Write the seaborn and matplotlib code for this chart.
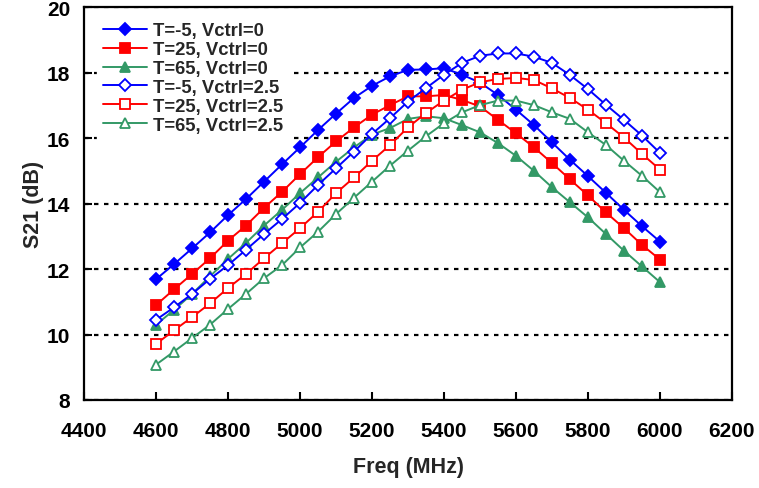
import pandas as pd
import seaborn as sns
import matplotlib.pyplot as plt
from matplotlib.lines import Line2D

# Frequency points (MHz)
freq = list(range(4600, 6001, 50))

# S21 (dB)
s21_m5_v0 = [11.69, 12.15, 12.63, 13.12, 13.65, 14.14, 14.67, 15.20, 15.72, 16.25,
             16.75, 17.23, 17.60, 17.89, 18.09, 18.10, 18.14, 17.94, 17.70, 17.32,
             16.87, 16.40, 15.87, 15.34, 14.84, 14.33, 13.81, 13.31, 12.84]
s21_25_v0 = [10.90, 11.38, 11.85, 12.33, 12.87, 13.33, 13.87, 14.36, 14.90, 15.42,
             15.90, 16.33, 16.72, 17.01, 17.28, 17.28, 17.32, 17.17, 16.97, 16.56,
             16.15, 15.72, 15.24, 14.74, 14.25, 13.73, 13.25, 12.74, 12.29]
s21_65_v0 = [10.30, 10.75, 11.24, 11.78, 12.31, 12.80, 13.33, 13.81, 14.32, 14.80,
             15.28, 15.72, 16.11, 16.31, 16.59, 16.67, 16.61, 16.40, 16.18, 15.85,
             15.46, 15.00, 14.50, 14.04, 13.58, 13.07, 12.56, 12.08, 11.60]
s21_m5_v25 = [10.45, 10.83, 11.24, 11.70, 12.12, 12.59, 13.07, 13.53, 14.02, 14.57,
              15.08, 15.59, 16.13, 16.61, 17.12, 17.53, 17.94, 18.30, 18.52, 18.59,
              18.59, 18.49, 18.30, 17.93, 17.50, 17.02, 16.56, 16.08, 15.55]
s21_25_v25 = [9.71, 10.13, 10.53, 10.95, 11.42, 11.85, 12.33, 12.79, 13.25, 13.75,
              14.32, 14.80, 15.31, 15.79, 16.33, 16.77, 17.15, 17.48, 17.71, 17.81,
              17.84, 17.78, 17.52, 17.23, 16.87, 16.46, 16.02, 15.52, 15.04]
s21_65_v25 = [9.08, 9.48, 9.89, 10.30, 10.78, 11.24, 11.72, 12.12, 12.66, 13.14,
              13.68, 14.18, 14.67, 15.16, 15.62, 16.06, 16.46, 16.79, 17.01, 17.15,
              17.15, 17.01, 16.79, 16.59, 16.18, 15.79, 15.31, 14.85, 14.35]

labels = ['T=-5, Vctrl=0', 'T=25, Vctrl=0', 'T=65, Vctrl=0',
          'T=-5, Vctrl=2.5', 'T=25, Vctrl=2.5', 'T=65, Vctrl=2.5']
series = [s21_m5_v0, s21_25_v0, s21_65_v0, s21_m5_v25, s21_25_v25, s21_65_v25]

blue, red, green = '#0000FF', '#FF0000', '#339966'
colors = [blue, red, green, blue, red, green]
markers = ['D', 's', '^', 'D', 's', '^']
msizes = [6.5, 7.2, 7.8, 6.5, 7.2, 7.8]
filled = [True, True, True, False, False, False]

sns.set_style("white")
plt.rcParams['font.family'] = ['Liberation Sans', 'DejaVu Sans']
plt.rcParams['font.weight'] = 'bold'

fig = plt.figure(figsize=(7.59, 4.89), dpi=100)
ax = fig.add_axes([0.1107, 0.18, 0.8537, 0.803])

handles = []
for lab, vals, c, m, ms, f in zip(labels, series, colors, markers, msizes, filled):
    df = pd.DataFrame({'freq': freq, 's21': vals})
    sns.lineplot(data=df, x='freq', y='s21', ax=ax, color=c, linewidth=1.4,
                 marker=m, markersize=ms, markeredgecolor=c,
                 markerfacecolor=c if f else 'white', markeredgewidth=1.3,
                 zorder=3)
    handles.append(Line2D([], [], color=c, linewidth=1.4, marker=m, markersize=ms,
                          markeredgecolor=c, markerfacecolor=c if f else 'white',
                          markeredgewidth=1.3, label=lab))

ax.set_xlim(4400, 6200)
ax.set_ylim(8, 20)
ax.set_xticks(range(4400, 6201, 200))
ax.set_yticks(range(8, 21, 2))

ax.set_axisbelow(True)
ax.yaxis.grid(True, color='black', linestyle=(0, (2, 2.5)), linewidth=1.6)
ax.xaxis.grid(False)

for sp in ax.spines.values():
    sp.set_color('black')
    sp.set_linewidth(1.6)
    sp.set_zorder(4)

ax.tick_params(axis='both', direction='in', length=5.5, width=1.5, color='black',
               labelsize=15, labelcolor='black')
ax.tick_params(axis='y', pad=10, left=True)
ax.tick_params(axis='x', pad=15, bottom=True)

ax.set_xlabel('Freq (MHz)', fontsize=15.5, fontweight='bold', labelpad=12)
ax.set_ylabel('S21 (dB)', fontsize=15.5, fontweight='bold', labelpad=2)

leg = ax.legend(handles=handles, loc='upper left', frameon=True, fontsize=13.3,
                handlelength=2.4, labelspacing=0.1, handletextpad=0.3,
                borderpad=0.3, borderaxespad=0.3, bbox_to_anchor=(0.012, 0.99),
                facecolor='white', edgecolor='white', framealpha=1.0, fancybox=False)
leg.set_zorder(5)

plt.savefig('out.png', dpi=100, facecolor='white')
plt.close()
